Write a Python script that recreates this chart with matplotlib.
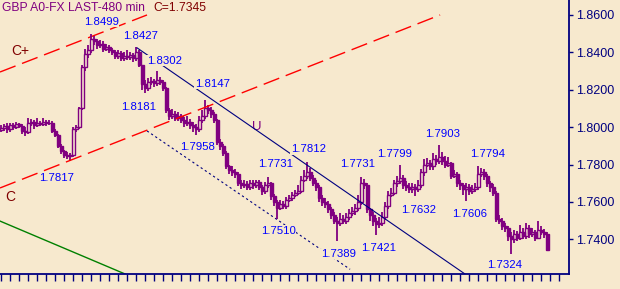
import numpy as np
import matplotlib
matplotlib.use("Agg")
import matplotlib.pyplot as plt

plt.rcParams['font.family'] = ['Liberation Sans', 'DejaVu Sans']

# 480-min bars, GBP
closes = [1.7995, 1.8005, 1.7990, 1.8010, 1.8000, 1.8015, 1.8005, 1.7980, 1.7975, 1.8020,
          1.8030, 1.8010, 1.8025, 1.8015, 1.8030, 1.8020, 1.8025, 1.7980, 1.7960, 1.7900,
          1.7870, 1.7850, 1.7845, 1.7850, 1.7990, 1.8000, 1.8100, 1.8320, 1.8390, 1.8410,
          1.8470, 1.8460, 1.8440, 1.8445, 1.8420, 1.8430, 1.8410, 1.8400, 1.8380, 1.8395,
          1.8370, 1.8380, 1.8375, 1.8385, 1.8370, 1.8400, 1.8330, 1.8230, 1.8210, 1.8240,
          1.8245, 1.8235, 1.8250, 1.8240, 1.8210, 1.8090, 1.8060, 1.8070, 1.8050, 1.8060,
          1.8040, 1.8020, 1.8030, 1.8010, 1.8000, 1.7990, 1.8040, 1.8060, 1.8100, 1.8090,
          1.8070, 1.8040, 1.7920, 1.7900, 1.7860, 1.7790, 1.7770, 1.7760, 1.7750, 1.7700,
          1.7690, 1.7695, 1.7680, 1.7700, 1.7690, 1.7705, 1.7680, 1.7660, 1.7690, 1.7700,
          1.7630, 1.7600, 1.7570, 1.7590, 1.7580, 1.7610, 1.7620, 1.7640, 1.7650, 1.7660,
          1.7720, 1.7740, 1.7760, 1.7730, 1.7700, 1.7680, 1.7620, 1.7600, 1.7590, 1.7560,
          1.7530, 1.7500, 1.7490, 1.7510, 1.7500, 1.7520, 1.7540, 1.7550, 1.7570, 1.7600,
          1.7700, 1.7690, 1.7560, 1.7530, 1.7500, 1.7480, 1.7490, 1.7520, 1.7580, 1.7640,
          1.7650, 1.7700, 1.7710, 1.7730, 1.7690, 1.7680, 1.7670, 1.7680, 1.7670, 1.7690,
          1.7760, 1.7800, 1.7810, 1.7790, 1.7830, 1.7820, 1.7840, 1.7820, 1.7800, 1.7810,
          1.7740, 1.7750, 1.7700, 1.7690, 1.7670, 1.7680, 1.7660, 1.7670, 1.7680, 1.7750,
          1.7760, 1.7740, 1.7700, 1.7680, 1.7650, 1.7510, 1.7500, 1.7470, 1.7460, 1.7420,
          1.7400, 1.7430, 1.7410, 1.7440, 1.7420, 1.7460, 1.7430, 1.7440, 1.7410, 1.7450,
          1.7440, 1.7430, 1.7345]
opens = [1.7985] + closes[:-1]
highs = [1.8010, 1.8015, 1.8020, 1.8025, 1.8020, 1.8030, 1.8025, 1.8015, 1.8000, 1.8050,
         1.8045, 1.8040, 1.8050, 1.8035, 1.8050, 1.8040, 1.8040, 1.8035, 1.7990, 1.7965,
         1.7910, 1.7880, 1.7865, 1.7860, 1.8000, 1.8010, 1.8110, 1.8330, 1.8420, 1.8440,
         1.8499, 1.8485, 1.8470, 1.8465, 1.8460, 1.8445, 1.8440, 1.8425, 1.8415, 1.8410,
         1.8405, 1.8400, 1.8410, 1.8400, 1.8395, 1.8427, 1.8410, 1.8335, 1.8250, 1.8265,
         1.8270, 1.8260, 1.8302, 1.8270, 1.8250, 1.8215, 1.8100, 1.8095, 1.8085, 1.8080,
         1.8070, 1.8055, 1.8060, 1.8045, 1.8030, 1.8015, 1.8060, 1.8090, 1.8147, 1.8120,
         1.8110, 1.8080, 1.8045, 1.7935, 1.7910, 1.7870, 1.7800, 1.7790, 1.7775, 1.7760,
         1.7720, 1.7715, 1.7710, 1.7720, 1.7715, 1.7720, 1.7715, 1.7690, 1.7705, 1.7731,
         1.7705, 1.7645, 1.7610, 1.7610, 1.7605, 1.7625, 1.7640, 1.7655, 1.7665, 1.7690,
         1.7740, 1.7770, 1.7812, 1.7780, 1.7745, 1.7720, 1.7690, 1.7640, 1.7620, 1.7605,
         1.7575, 1.7545, 1.7520, 1.7540, 1.7530, 1.7540, 1.7565, 1.7575, 1.7590, 1.7640,
         1.7731, 1.7725, 1.7700, 1.7570, 1.7545, 1.7515, 1.7520, 1.7545, 1.7600, 1.7660,
         1.7675, 1.7720, 1.7740, 1.7799, 1.7745, 1.7710, 1.7700, 1.7700, 1.7695, 1.7715,
         1.7775, 1.7830, 1.7835, 1.7825, 1.7860, 1.7850, 1.7903, 1.7865, 1.7845, 1.7840,
         1.7815, 1.7770, 1.7760, 1.7720, 1.7700, 1.7700, 1.7695, 1.7690, 1.7700, 1.7794,
         1.7780, 1.7775, 1.7750, 1.7710, 1.7695, 1.7660, 1.7530, 1.7515, 1.7490, 1.7470,
         1.7440, 1.7450, 1.7445, 1.7475, 1.7460, 1.7490, 1.7475, 1.7460, 1.7450, 1.7500,
         1.7470, 1.7455, 1.7440]
lows = [1.7975, 1.7980, 1.7970, 1.7975, 1.7985, 1.7990, 1.7995, 1.7965, 1.7955, 1.7965,
        1.8005, 1.7990, 1.8000, 1.8005, 1.8005, 1.8005, 1.8010, 1.7970, 1.7950, 1.7890,
        1.7855, 1.7835, 1.7830, 1.7817, 1.7840, 1.7975, 1.7990, 1.8090, 1.8300, 1.8370,
        1.8395, 1.8440, 1.8420, 1.8425, 1.8400, 1.8405, 1.8395, 1.8385, 1.8365, 1.8365,
        1.8355, 1.8355, 1.8360, 1.8360, 1.8350, 1.8355, 1.8320, 1.8200, 1.8181, 1.8195,
        1.8225, 1.8215, 1.8220, 1.8225, 1.8195, 1.8075, 1.8040, 1.8045, 1.8035, 1.8035,
        1.8025, 1.8000, 1.8005, 1.7990, 1.7975, 1.7958, 1.7975, 1.8025, 1.8045, 1.8070,
        1.8050, 1.8020, 1.7905, 1.7880, 1.7845, 1.7775, 1.7750, 1.7740, 1.7730, 1.7685,
        1.7670, 1.7675, 1.7665, 1.7665, 1.7670, 1.7675, 1.7665, 1.7640, 1.7645, 1.7675,
        1.7610, 1.7580, 1.7510, 1.7555, 1.7560, 1.7565, 1.7600, 1.7605, 1.7625, 1.7635,
        1.7650, 1.7705, 1.7725, 1.7710, 1.7685, 1.7660, 1.7600, 1.7580, 1.7570, 1.7540,
        1.7510, 1.7480, 1.7389, 1.7470, 1.7480, 1.7485, 1.7505, 1.7525, 1.7530, 1.7550,
        1.7585, 1.7670, 1.7540, 1.7500, 1.7470, 1.7421, 1.7460, 1.7470, 1.7505, 1.7560,
        1.7625, 1.7635, 1.7680, 1.7695, 1.7670, 1.7660, 1.7650, 1.7650, 1.7632, 1.7655,
        1.7675, 1.7740, 1.7785, 1.7770, 1.7770, 1.7800, 1.7805, 1.7800, 1.7780, 1.7785,
        1.7725, 1.7730, 1.7680, 1.7665, 1.7640, 1.7606, 1.7640, 1.7645, 1.7655, 1.7665,
        1.7735, 1.7720, 1.7680, 1.7655, 1.7630, 1.7495, 1.7480, 1.7450, 1.7440, 1.7390,
        1.7324, 1.7380, 1.7390, 1.7395, 1.7400, 1.7400, 1.7410, 1.7415, 1.7390, 1.7400,
        1.7425, 1.7410, 1.7340]

# swing labels: value, bar it sits over
label_vals = ['1.8499', '1.8427', '1.8302', '1.8147', '1.8181', '1.7817', '1.7958',
              '1.7731', '1.7812', '1.7731', '1.7799', '1.7903', '1.7794', '1.7632',
              '1.7606', '1.7324', '1.7510', '1.7389', '1.7421']
label_bar = [33.2, 46.2, 54.2, 70.2, 45.8, 18.2, 65.2, 91.2, 102.2, 118.8, 131.2,
             147.2, 162.2, 139.2, 156.2, 167.8, 92.2, 112.2, 125.8]
label_dy = [12, 11, 10, 16, -14, -16.5, -12, 13.5, 13, 13.5, 11, 11, 12, -14,
            -13, -11.5, -12, -12.5, -12.5]

# trend lines (bar, price)
upper_c = ([-0.5, 48.5], [1.8295, 1.8600])
lower_c = ([-0.5, 146.2], [1.7675, 1.8600])
u_line = ([45.2, 154.5], [1.8424, 1.7215])
u_dash = ([48.5, 116.2], [1.7980, 1.7240])
green = ([-0.5, 41.2], [1.7498, 1.7215])

bg = '#F7E9CE'
purple = '#800080'
navy = '#000080'

fig = plt.figure(figsize=(6.2, 2.89), dpi=100, facecolor=bg)
ax = fig.add_axes([0, 15/289, 569/620, 274/289], facecolor=bg)

x = np.arange(len(closes))
o = np.array(opens)
c = np.array(closes)
ax.vlines(x, lows, highs, color=purple, lw=1.3, zorder=3)
up = c >= o
bottom = np.minimum(o, c)
height = np.maximum(np.abs(c - o), 0.0003)
ax.bar(x[up], height[up], bottom=bottom[up], width=0.9, facecolor=bg,
       edgecolor=purple, linewidth=1.0, zorder=4)
ax.bar(x[~up], height[~up], bottom=bottom[~up], width=0.9, facecolor=purple,
       edgecolor=purple, linewidth=1.0, zorder=4)

l1, = ax.plot(*upper_c, color='red', lw=1, zorder=2)
l1.set_dashes((12, 5))
l2, = ax.plot(*lower_c, color='red', lw=1, zorder=5)
l2.set_dashes((12, 5))
ax.plot(*u_line, color=navy, lw=0.8, zorder=5)
l3, = ax.plot(*u_dash, color=navy, lw=0.8, zorder=2)
l3.set_dashes((2, 2.5))
ax.plot(*green, color='green', lw=1, zorder=2)

for v, b, dy in zip(label_vals, label_bar, label_dy):
    ax.annotate(v, xy=(b, float(v)), xytext=(0, dy), textcoords='offset pixels',
                ha='center', va='center', color='#0000FF', fontsize=8.2, zorder=6,
                bbox=dict(facecolor=bg, edgecolor='none', pad=0.3))

ax.annotate('C+', xy=(20/620, 1 - 51/289), xycoords='figure fraction',
            ha='center', va='center', color='#800000', fontsize=10)
ax.annotate('C', xy=(10/620, 1 - 197/289), xycoords='figure fraction',
            ha='center', va='center', color='#800000', fontsize=10)
ax.annotate('U', xy=(257/620, 1 - 127/289), xycoords='figure fraction',
            ha='center', va='center', color=purple, fontsize=9.5)

fig.text(2/620, 1 - 8/289, 'GBP A0-FX LAST-480 min', color=purple,
         fontsize=8.7, va='center', ha='left')
fig.text(153/620, 1 - 8/289, 'C=1.7345', color='#800000',
         fontsize=8.7, va='center', ha='left')

ax.set_xlim(-0.5, 189.17)
ax.set_ylim(1.7215, 1.8680)
ax.set_xticks(np.arange(0, 187, 3))
ax.set_yticks(np.arange(1.74, 1.8601, 0.02))
ax.yaxis.set_major_formatter(matplotlib.ticker.FormatStrFormatter('%.4f'))
ax.yaxis.tick_right()
ax.tick_params(axis='x', direction='out', length=5, width=1, color=navy,
               labelbottom=False)
ax.tick_params(axis='y', direction='out', length=3, width=1, color=navy,
               labelcolor=navy, labelsize=9, pad=2)
for s in ['top', 'left']:
    ax.spines[s].set_visible(False)
for s in ['right', 'bottom']:
    ax.spines[s].set_color(navy)
    ax.spines[s].set_linewidth(1.3)

fig.savefig('out.png', dpi=100, facecolor=bg)
